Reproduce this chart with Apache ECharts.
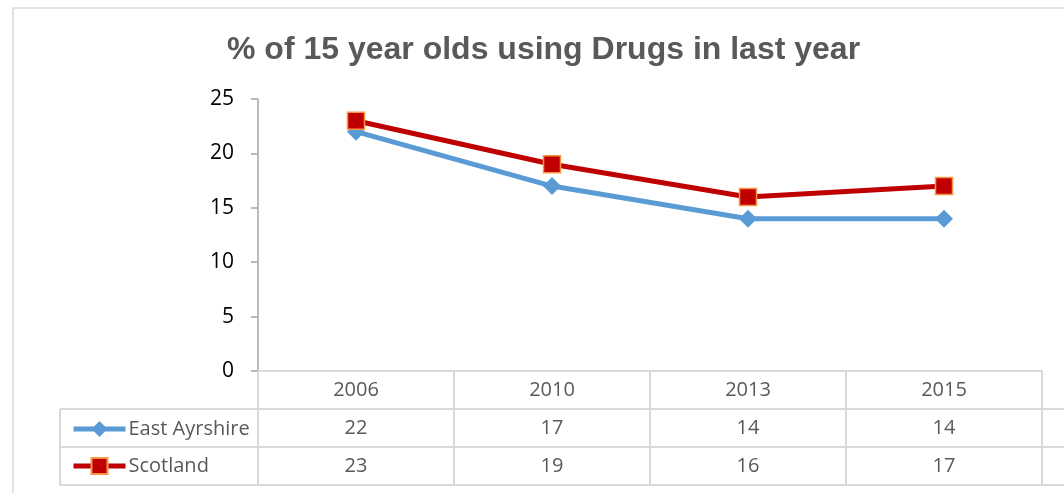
<!DOCTYPE html>
<html><head><meta charset="utf-8">
<script src="https://cdn.jsdelivr.net/npm/echarts@6/dist/echarts.min.js"></script>
<style>html,body{margin:0;padding:0;background:#fff}#c{width:1064px;height:493px}</style>
</head><body><div id="c"></div>
<script>
const titleText = '% of 15 year olds using Drugs in last year';
const categories = ['2006', '2010', '2013', '2015'];
const seriesNames = ['East Ayrshire', 'Scotland'];
const eastAyrshire = [22, 17, 14, 14];
const scotland = [23, 19, 16, 17];
const yTicks = [0, 5, 10, 15, 20, 25];

const chart = echarts.init(document.getElementById('c'), null, {renderer: 'canvas'});
const tableFont = '"Open Sans", "Noto Sans", sans-serif';
const GRID = {left: 258, right: 22, top: 99, bottom: 122};
const lineColor = '#D9D9D9';
const headerH = 38, rowH = 38;

const option = {
  animation: false,
  backgroundColor: '#fff',
  title: {
    text: titleText, left: 222, top: 29,
    textStyle: {fontFamily: '"Liberation Sans", Arial, sans-serif', fontSize: 32, fontWeight: 'bold', color: '#595959'}
  },
  legend: {
    orient: 'vertical', left: 66, top: 414, itemGap: 17,
    itemWidth: 52, itemHeight: 20,
    data: seriesNames,
    lineStyle: {width: 5},
    textStyle: {fontFamily: tableFont, fontSize: 20, color: '#595959', padding: [0, 0, 0, -2]}
  },
  grid: GRID,
  xAxis: {
    type: 'category', data: categories, boundaryGap: true,
    axisLine: {lineStyle: {color: lineColor, width: 2}},
    axisTick: {show: true, length: headerH + 2 * rowH, lineStyle: {color: lineColor, width: 2}},
    axisLabel: {fontFamily: tableFont, fontSize: 20, color: '#595959', margin: 9}
  },
  yAxis: {
    type: 'value', min: 0, max: 25, interval: 5,
    axisLine: {show: true, lineStyle: {color: '#A6A6A6', width: 1.5}},
    axisTick: {show: true, length: 7, lineStyle: {color: '#A6A6A6', width: 1.5}},
    splitLine: {show: false},
    axisLabel: {fontFamily: tableFont, fontSize: 21, color: '#000', margin: 24,
      formatter: v => yTicks.includes(v) ? String(v) : ''}
  },
  series: [
    {name: seriesNames[0], type: 'line', data: eastAyrshire, symbol: 'diamond', symbolSize: 18,
      lineStyle: {color: '#5B9BD5', width: 5}, itemStyle: {color: '#5B9BD5'}, z: 2},
    {name: seriesNames[1], type: 'line', data: scotland, symbol: 'rect', symbolSize: 17,
      lineStyle: {color: '#C00000', width: 5}, itemStyle: {color: '#C00000', borderColor: '#F79646', borderWidth: 1.5}, z: 3}
  ]
};
chart.setOption(option);

// Data table below axis
const rows = [eastAyrshire, scotland];
const x1 = chart.convertToPixel({gridIndex: 0}, [categories.length - 0.5, 0])[0];
const yAxisPx = chart.convertToPixel({gridIndex: 0}, [0, 0])[1];
const tableLeft = 60;
const elems = [];
for (let r = 0; r < rows.length; r++) {
  const yTop = yAxisPx + headerH + r * rowH;
  elems.push({type: 'line', shape: {x1: tableLeft, y1: yTop, x2: x1, y2: yTop}, style: {stroke: lineColor, lineWidth: 2}});
  rows[r].forEach((v, i) => {
    const cx = chart.convertToPixel({gridIndex: 0}, [i, 0])[0];
    elems.push({type: 'text', x: cx, y: yTop + rowH / 2, style: {text: String(v), font: '20px ' + tableFont, fill: '#595959', align: 'center', verticalAlign: 'middle'}});
  });
}
const yBottom = yAxisPx + headerH + rows.length * rowH;
elems.push({type: 'line', shape: {x1: tableLeft, y1: yBottom, x2: x1, y2: yBottom}, style: {stroke: lineColor, lineWidth: 2}});
elems.push({type: 'line', shape: {x1: tableLeft, y1: yAxisPx + headerH, x2: tableLeft, y2: yBottom}, style: {stroke: lineColor, lineWidth: 2}});
// outer chart border
elems.push({type: 'rect', shape: {x: 13, y: 8, width: 1100, height: 600}, style: {fill: 'none', stroke: '#D9D9D9', lineWidth: 1.5}, silent: true});
chart.setOption({graphic: elems});
</script></body></html>
